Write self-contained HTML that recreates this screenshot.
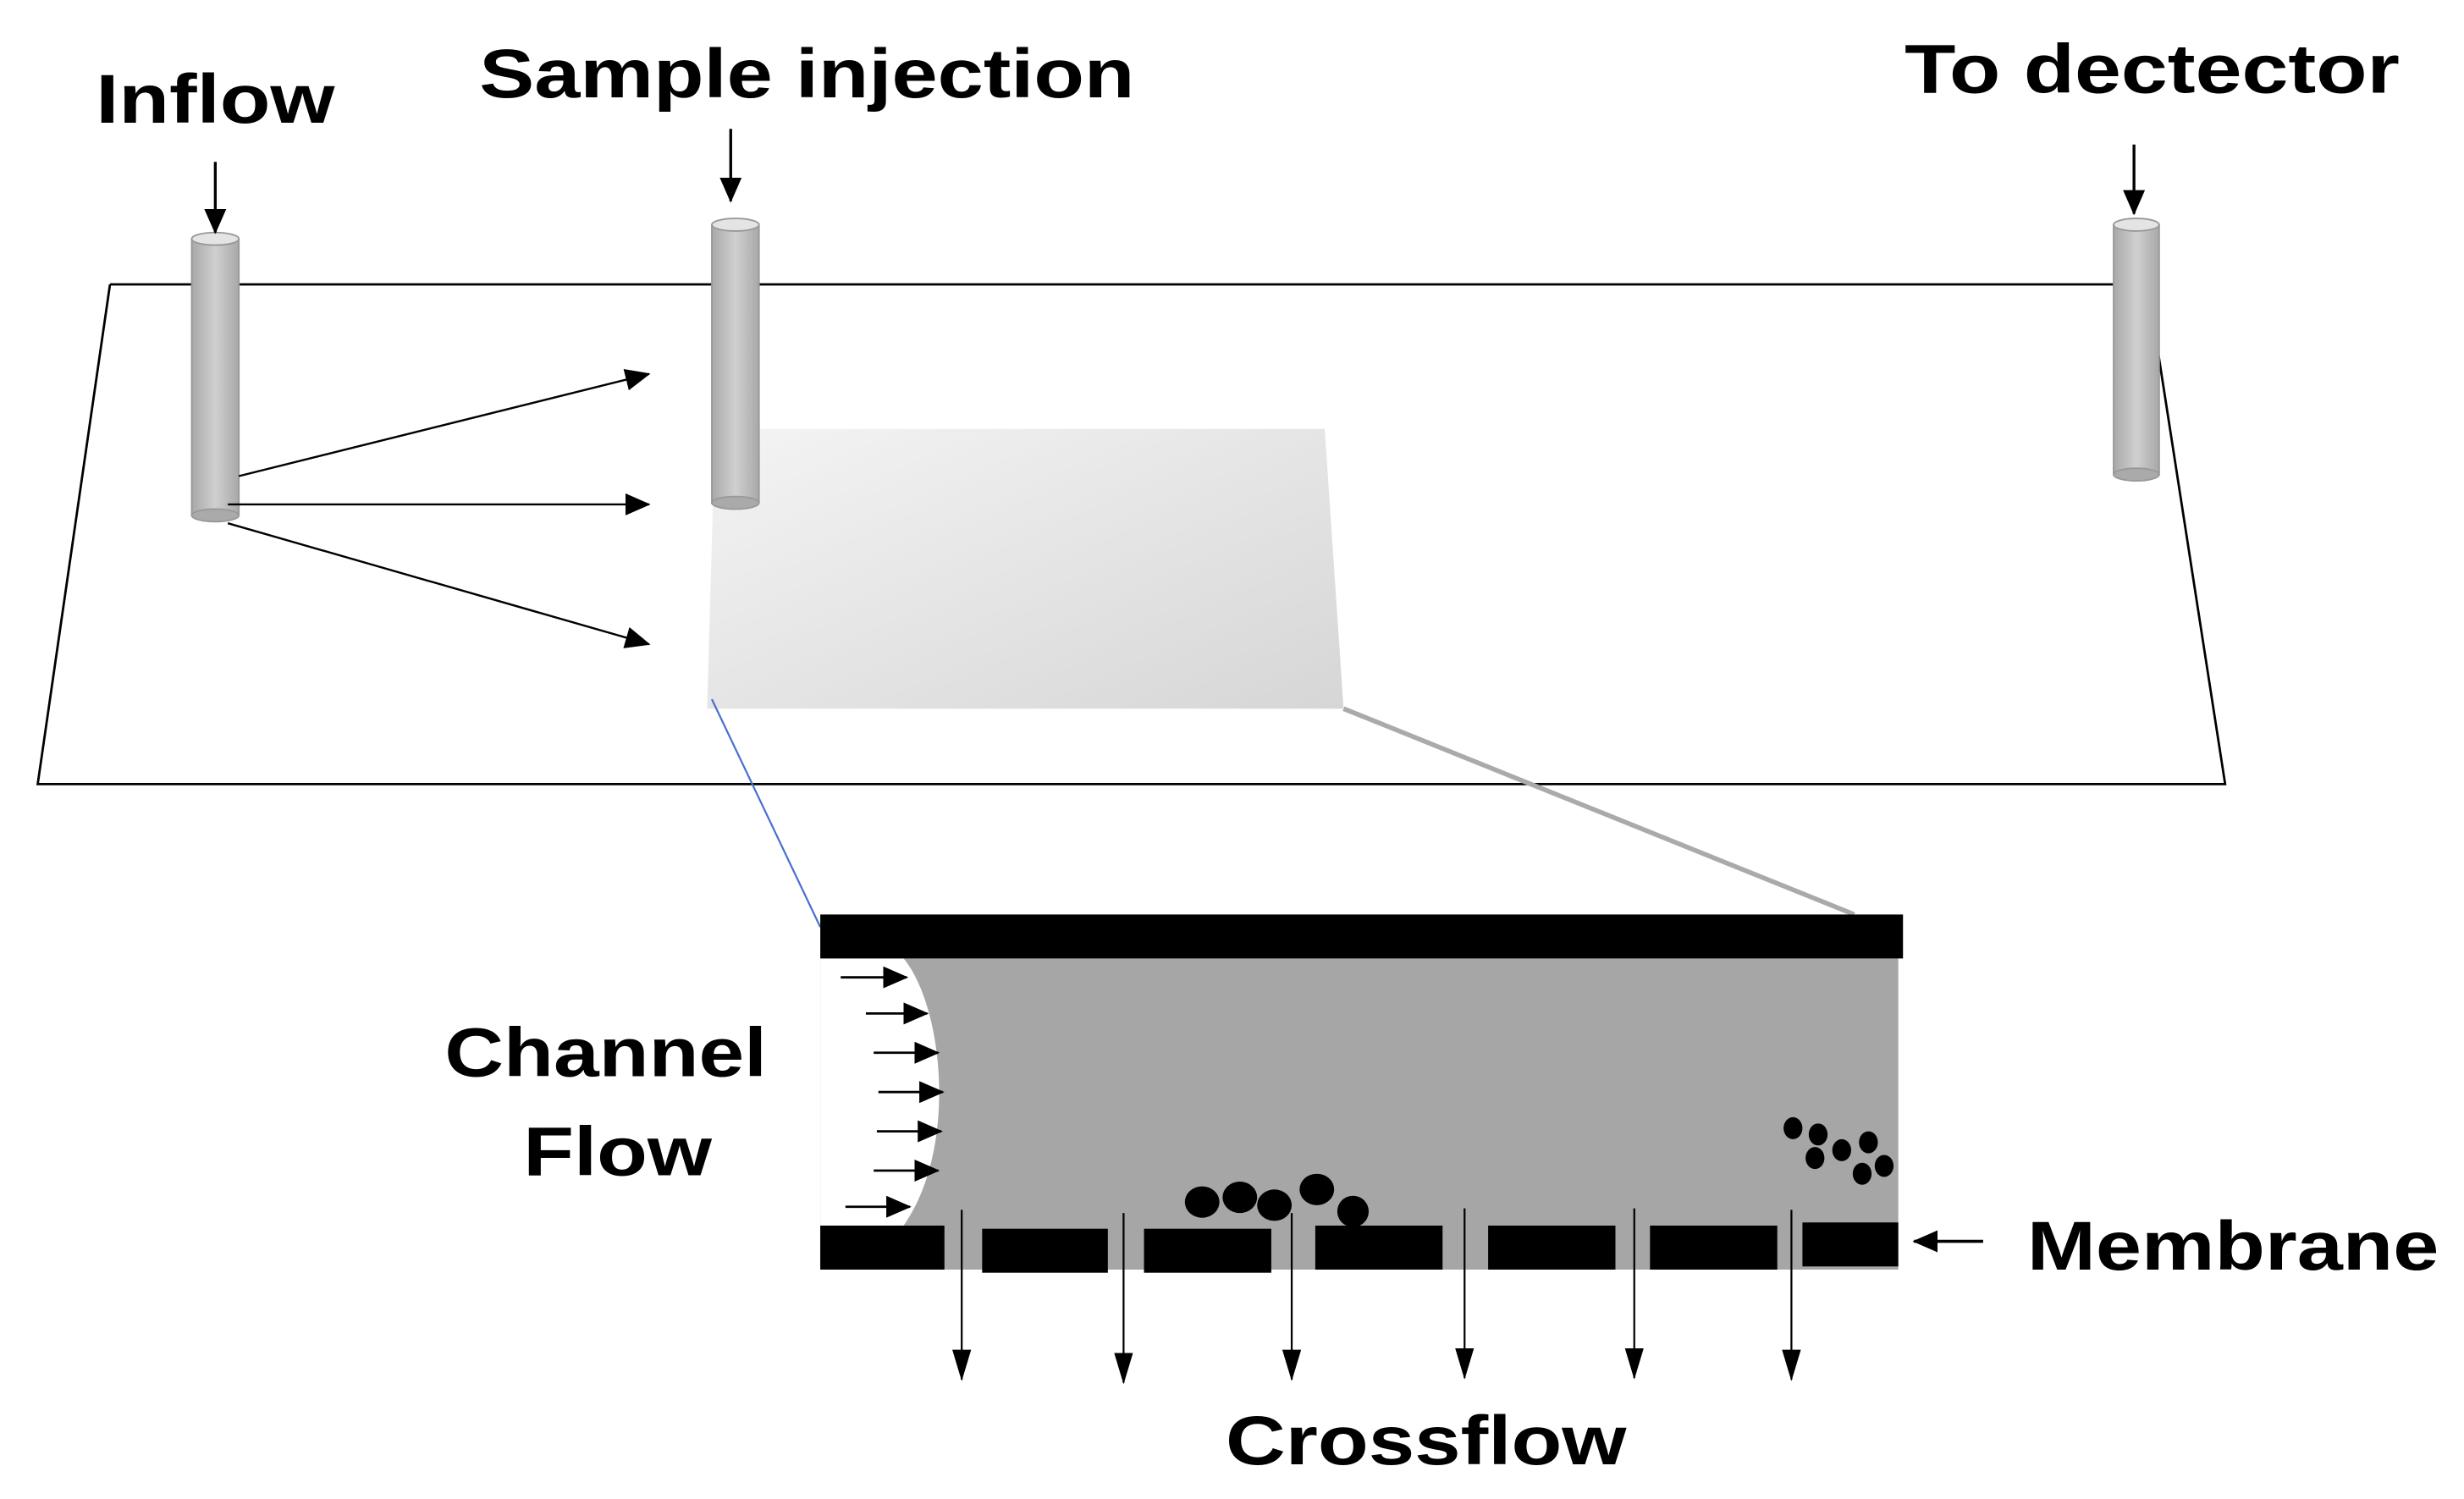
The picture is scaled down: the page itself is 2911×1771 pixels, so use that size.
<!DOCTYPE html>
<html><head><meta charset="utf-8"><style>html,body{margin:0;padding:0;background:#fff}svg{display:block}</style></head>
<body>
<svg width="2911" height="1771" viewBox="0 0 1568 954" preserveAspectRatio="none" xmlns="http://www.w3.org/2000/svg" font-family="Liberation Sans, Arial, sans-serif" font-weight="bold">
<defs>
<marker id="a" markerWidth="12" markerHeight="12" refX="11" refY="6" orient="auto" markerUnits="userSpaceOnUse"><path d="M0,0 L12,6 L0,12 z" fill="#000"/></marker>
<marker id="d" markerWidth="20" markerHeight="12" refX="19" refY="6" orient="auto" markerUnits="userSpaceOnUse"><path d="M0,0 L20,6 L0,12 z" fill="#000"/></marker>
<marker id="b" markerWidth="16" markerHeight="14" refX="15" refY="7" orient="auto" markerUnits="userSpaceOnUse"><path d="M0,0 L16,7 L0,14 z" fill="#000"/></marker>
<linearGradient id="g" x1="0" y1="0" x2="1" y2="1"><stop offset="0" stop-color="#f4f4f4"/><stop offset="1" stop-color="#d6d6d6"/></linearGradient>
<linearGradient id="c" x1="0" y1="0" x2="1" y2="0"><stop offset="0" stop-color="#a8a8a8"/><stop offset="0.5" stop-color="#d0d0d0"/><stop offset="1" stop-color="#a8a8a8"/></linearGradient>
</defs>
<path d="M70,181 L1350,181 M70,181 L24,499 L1416,499 L1373,222" fill="none" stroke="#000" stroke-width="1.5"/>
<polygon points="455,273 843,273 855,451 450,451" fill="url(#g)"/>
<line x1="453" y1="445" x2="522" y2="590" stroke="#4a6fd0" stroke-width="1.2"/>
<line x1="855" y1="451" x2="1180" y2="582" stroke="#aaa" stroke-width="3"/>
<g stroke="#999" stroke-width="1">
<rect x="122" y="152" width="30" height="176" fill="url(#c)"/>
<ellipse cx="137" cy="328" rx="15" ry="4" fill="#aaa"/>
<ellipse cx="137" cy="152" rx="15" ry="4" fill="#e4e4e4"/>
<rect x="453" y="143" width="30" height="177" fill="url(#c)"/>
<ellipse cx="468" cy="320" rx="15" ry="4" fill="#aaa"/>
<ellipse cx="468" cy="143" rx="15" ry="4" fill="#e4e4e4"/>
<rect x="1345" y="143" width="29" height="159" fill="url(#c)"/>
<ellipse cx="1359.5" cy="302" rx="14.5" ry="4" fill="#aaa"/>
<ellipse cx="1359.5" cy="143" rx="14.5" ry="4" fill="#e4e4e4"/>
</g>
<g stroke="#000" stroke-width="1.8" marker-end="url(#b)">
<line x1="137" y1="103" x2="137" y2="148"/>
<line x1="465" y1="82" x2="465" y2="128"/>
<line x1="1358" y1="92" x2="1358" y2="136"/>
</g>
<g stroke="#000" stroke-width="1.3" marker-end="url(#b)">
<line x1="152" y1="303" x2="413" y2="238"/>
<line x1="145" y1="321" x2="413" y2="321"/>
<line x1="145" y1="333" x2="413" y2="410"/>
</g>
<g font-size="44" fill="#000">
<text x="61" y="78" textLength="152" lengthAdjust="spacingAndGlyphs">Inflow</text>
<text x="305" y="62" textLength="417" lengthAdjust="spacingAndGlyphs">Sample injection</text>
<text x="1212" y="59" textLength="315" lengthAdjust="spacingAndGlyphs">To dectector</text>
<text x="283" y="685" textLength="205" lengthAdjust="spacingAndGlyphs">Channel</text>
<text x="333" y="748" textLength="120" lengthAdjust="spacingAndGlyphs">Flow</text>
<text x="1290" y="808" textLength="262" lengthAdjust="spacingAndGlyphs">Membrane</text>
<text x="780" y="932" textLength="255" lengthAdjust="spacingAndGlyphs">Crossflow</text>
</g>
<rect x="522" y="610" width="686" height="198" fill="#a6a6a6"/>
<path d="M522,610 L575,610 C600,640 610,730 575,780 L522,780 Z" fill="#fff"/>
<rect x="522" y="582" width="689" height="28" fill="#000"/>
<g fill="#000">
<rect x="522" y="780" width="79" height="28"/>
<rect x="625" y="782" width="80" height="28"/>
<rect x="728" y="782" width="81" height="28"/>
<rect x="837" y="780" width="81" height="28"/>
<rect x="947" y="780" width="81" height="28"/>
<rect x="1050" y="780" width="81" height="28"/>
<rect x="1147" y="778" width="61" height="28"/>
</g>
<g fill="#000">
<ellipse cx="765" cy="765" rx="11" ry="10"/>
<ellipse cx="789" cy="762" rx="11" ry="10"/>
<ellipse cx="811" cy="767" rx="11" ry="10"/>
<ellipse cx="838" cy="757" rx="11" ry="10"/>
<ellipse cx="861" cy="771" rx="10" ry="10"/>
<ellipse cx="1141" cy="718" rx="6" ry="7"/>
<ellipse cx="1157" cy="722" rx="6" ry="7"/>
<ellipse cx="1172" cy="732" rx="6" ry="7"/>
<ellipse cx="1189" cy="727" rx="6" ry="7"/>
<ellipse cx="1155" cy="737" rx="6" ry="7"/>
<ellipse cx="1185" cy="747" rx="6" ry="7"/>
<ellipse cx="1199" cy="742" rx="6" ry="7"/>
</g>
<g stroke="#000" stroke-width="1.5" marker-end="url(#b)">
<line x1="535" y1="622" x2="577" y2="622"/>
<line x1="551" y1="645" x2="590" y2="645"/>
<line x1="556" y1="670" x2="597" y2="670"/>
<line x1="559" y1="695" x2="600" y2="695"/>
<line x1="558" y1="720" x2="599" y2="720"/>
<line x1="556" y1="745" x2="597" y2="745"/>
<line x1="538" y1="768" x2="579" y2="768"/>
</g>
<g stroke="#000" stroke-width="1.2" marker-end="url(#d)">
<line x1="612" y1="770" x2="612" y2="878"/>
<line x1="715" y1="772" x2="715" y2="880"/>
<line x1="822" y1="772" x2="822" y2="878"/>
<line x1="932" y1="769" x2="932" y2="877"/>
<line x1="1040" y1="769" x2="1040" y2="877"/>
<line x1="1140" y1="770" x2="1140" y2="878"/>
</g>
<line x1="1262" y1="790" x2="1218" y2="790" stroke="#000" stroke-width="2" marker-end="url(#b)"/>
</svg>
</body></html>
